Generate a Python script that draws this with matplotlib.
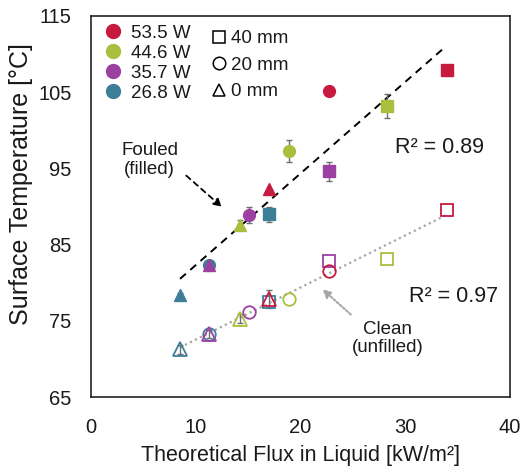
import matplotlib
matplotlib.use("Agg")
import matplotlib.pyplot as plt
from matplotlib.lines import Line2D
import numpy as np

plt.rcParams['font.family'] = ['Liberation Sans', 'DejaVu Sans']

# ---------------- data ----------------
powers = ['53.5 W', '44.6 W', '35.7 W', '26.8 W']
power_colors = ['#C8193F', '#A8C03D', '#9C40A2', '#3E7F98']
gaps = ['40 mm', '20 mm', '0 mm']
gap_markers = ['s', 'o', '^']

# theoretical flux (kW/m2), per power (order of `powers`) for each gap
flux_40mm = [34.0, 28.3, 22.7, 17.0]
flux_20mm = [22.7, 18.9, 15.1, 11.3]
flux_0mm = [17.0, 14.2, 11.3, 8.5]

# fouled (filled markers) surface temperature (°C)
fouled_40mm = [107.9, 103.2, 94.6, 89.0]
fouled_20mm = [105.2, 97.3, 88.9, 82.4]
fouled_0mm = [92.3, 87.6, 82.4, 78.4]
fouled_err_40mm = [0.0, 1.6, 1.2, 1.0]
fouled_err_20mm = [0.0, 1.4, 1.0, 0.0]
fouled_err_0mm = [0.0, 0.6, 0.3, 0.3]

# clean (unfilled markers) surface temperature (°C)
clean_40mm = [89.5, 83.1, 82.8, 77.5]
clean_20mm = [81.5, 77.9, 76.2, 73.3]
clean_0mm = [77.9, 75.3, 73.3, 71.3]
clean_err_40mm = [0.0, 0.0, 0.0, 0.0]
clean_err_20mm = [0.0, 0.0, 0.0, 0.0]
clean_err_0mm = [1.2, 0.6, 0.5, 0.6]

r2_fouled = 'R² = 0.89'
r2_clean = 'R² = 0.97'

# ---------------- figure ----------------
fig = plt.figure(figsize=(5.29, 4.70), dpi=100)
ax = fig.add_axes([0.172, 0.155, 0.792, 0.811])

flux = [flux_40mm, flux_20mm, flux_0mm]
fouled = [fouled_40mm, fouled_20mm, fouled_0mm]
fouled_err = [fouled_err_40mm, fouled_err_20mm, fouled_err_0mm]
clean = [clean_40mm, clean_20mm, clean_0mm]
clean_err = [clean_err_40mm, clean_err_20mm, clean_err_0mm]

# trend lines
fx = np.concatenate([np.array(f) for f in flux])
fy = np.concatenate([np.array(f) for f in fouled])
cy = np.concatenate([np.array(c) for c in clean])
pf = np.polyfit(fx, fy, 1)
pc = np.polyfit(fx, cy, 1)
xs = np.array([fx.min(), fx.max() - 0.3])
ax.plot(xs, np.polyval(pf, xs), ls=(0, (4, 3)), color='black', lw=1.4, zorder=1)
xs2 = np.array([fx.min(), fx.max()])
ax.plot(xs2, np.polyval(pc, xs2), ls=(0, (1, 1.5)), color='#A6A6A6', lw=1.6, zorder=1)

ecol = '#6E6E6E'
# draw in order teal, purple, green, red
for i in reversed(range(len(powers))):
    col = power_colors[i]
    for g in range(len(gaps)):
        m = gap_markers[g]
        ms = 8.5 if m != '^' else 9
        if fouled_err[g][i] > 0:
            ax.errorbar(flux[g][i], fouled[g][i], yerr=fouled_err[g][i], fmt='none',
                        ecolor=ecol, elinewidth=1.0, capsize=2.5, capthick=1.0, zorder=2)
        ax.plot(flux[g][i], fouled[g][i], marker=m, ls='none', ms=ms,
                mfc=col, mec=col, mew=1.0, zorder=3)
        if clean_err[g][i] > 0:
            ax.errorbar(flux[g][i], clean[g][i], yerr=clean_err[g][i], fmt='none',
                        ecolor=ecol, elinewidth=1.0, capsize=2.5, capthick=1.0, zorder=2)
        ax.plot(flux[g][i], clean[g][i], marker=m, ls='none', ms=ms + 0.5,
                mfc='none', mec=col, mew=1.3, zorder=3)

ax.set_xlim(0, 40)
ax.set_ylim(65, 115)
ax.set_xticks([0, 10, 20, 30, 40])
ax.set_yticks([65, 75, 85, 95, 105, 115])
ax.tick_params(length=0, labelsize=14.5, colors='#1a1a1a')
ax.tick_params(axis='y', pad=14)
ax.tick_params(axis='x', pad=15)
for s in ax.spines.values():
    s.set_linewidth(1.2)
    s.set_color('#222222')

ax.set_xlabel('Theoretical Flux in Liquid [kW/m²]', fontsize=15.5, color='#1a1a1a')
ax.set_ylabel('Surface Temperature [°C]', fontsize=18, color='#1a1a1a')
ax.xaxis.set_label_coords(0.5, -0.125)
ax.xaxis.label.set_va('top')
ax.yaxis.set_label_coords(-0.138, 0.56)

# annotations
ax.text(5.6, 96.1, 'Fouled\n(filled)', ha='center', va='center', fontsize=13.5,
        color='#1a1a1a', linespacing=1.1)
ax.annotate('', xy=(12.7, 89.7), xytext=(8.9, 94.3),
            arrowprops=dict(arrowstyle='-|>', color='black', lw=1.3,
                            ls=(0, (3, 2.5)), mutation_scale=12))
ax.text(33.3, 97.7, r2_fouled, ha='center', va='center', fontsize=15.5, color='#1a1a1a')
ax.text(34.65, 78.2, r2_clean, ha='center', va='center', fontsize=15.5, color='#1a1a1a')
ax.text(28.3, 72.7, 'Clean\n(unfilled)', ha='center', va='center', fontsize=13.5,
        color='#1a1a1a', linespacing=1.1)
ax.annotate('', xy=(21.9, 79.4), xytext=(25.0, 75.6),
            arrowprops=dict(arrowstyle='-|>', color='#A6A6A6', lw=1.5,
                            ls=(0, (1, 1)), mutation_scale=12))

# legends
h1 = [Line2D([], [], marker='o', ls='none', ms=10, mfc=c, mec=c) for c in power_colors]
leg1 = ax.legend(h1, powers, loc='upper left', bbox_to_anchor=(0.01, 1.0),
                 frameon=False, fontsize=13.5, handlelength=1.0, handletextpad=0.45,
                 labelspacing=0.16, borderpad=0.25, borderaxespad=0.2)
for t in leg1.get_texts():
    t.set_color('#1a1a1a')
ax.add_artist(leg1)
h2 = [Line2D([], [], marker=m, ls='none', ms=9, mfc='none', mec='black', mew=1.1)
      for m in gap_markers]
leg2 = ax.legend(h2, gaps, loc='upper left', bbox_to_anchor=(0.27, 0.985),
                 frameon=False, fontsize=13.5, handlelength=0.7, handletextpad=0.3,
                 labelspacing=0.5, borderpad=0.25, borderaxespad=0.2)
for t in leg2.get_texts():
    t.set_color('#1a1a1a')

fig.savefig('out.png', dpi=100)
